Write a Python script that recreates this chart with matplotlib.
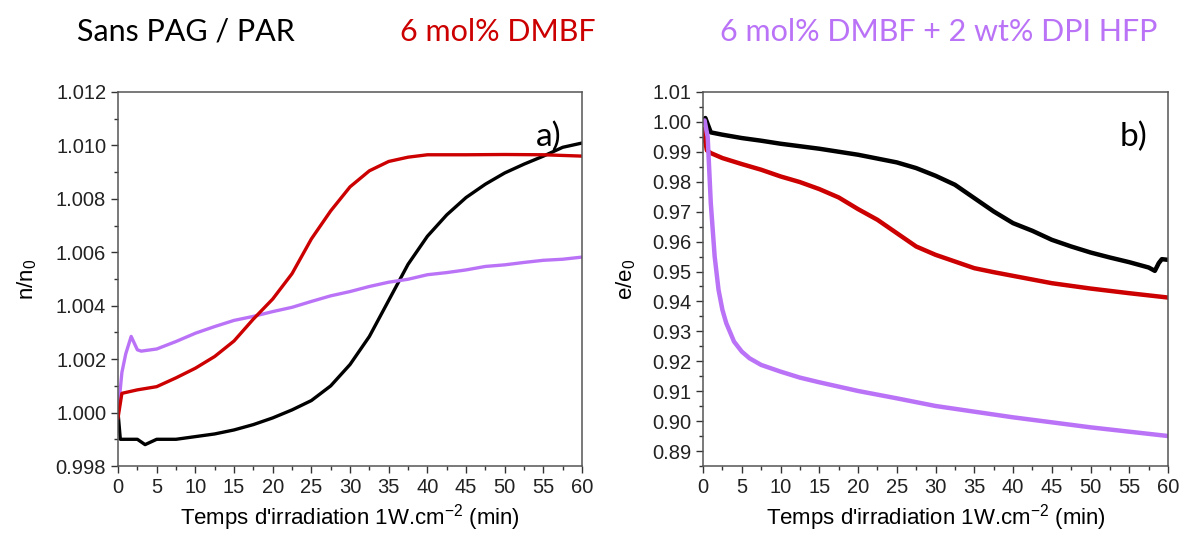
import numpy as np
import matplotlib
matplotlib.use("Agg")
import matplotlib.pyplot as plt
from matplotlib.ticker import MultipleLocator, FormatStrFormatter

# ---- data (time in min) ----
# panel a) n/n0
t_a_black = [0, 0.3, 1, 2.5, 3.5, 5, 7.5, 10, 12.5, 15, 17.5, 20, 22.5, 25, 27.5, 30, 32.5, 35,
             37.5, 40, 42.5, 45, 47.5, 50, 52.5, 55, 57.5, 60]
n_black = [1.0000, 0.9990, 0.9990, 0.9990, 0.9988, 0.9990, 0.9990, 0.9991, 0.9992, 0.99935, 0.99955,
           0.9998, 1.0001, 1.00045, 1.00100, 1.00180, 1.00285, 1.0042, 1.00555, 1.0066, 1.00740,
           1.00805, 1.00855, 1.00897, 1.00930, 1.00960, 1.00993, 1.01009]

t_a_red = [0, 0.5, 2.5, 5, 7.5, 10, 12.5, 15, 17.5, 20, 22.5, 25, 27.5, 30, 32.5, 35, 37.5, 40,
           45, 50, 55, 60]
n_red = [0.9998, 1.00072, 1.00085, 1.00097, 1.0013, 1.00166, 1.00210, 1.00268, 1.0035, 1.00425,
         1.0052, 1.0065, 1.00755, 1.00845, 1.00905, 1.0094, 1.00956, 1.00965, 1.00965, 1.00966,
         1.00965, 1.0096]

t_a_purple = [0, 0.5, 1, 1.7, 2.5, 3, 5, 7.5, 10, 12.5, 15, 17.5, 20, 22.5, 25, 27.5, 30, 32.5,
              35, 37.5, 40, 42.5, 45, 47.5, 50, 52.5, 55, 57.5, 60]
n_purple = [1.0000, 1.0015, 1.0022, 1.00285, 1.00235, 1.0023, 1.00238, 1.00266, 1.00297, 1.00322,
            1.00345, 1.0036, 1.00378, 1.00394, 1.00416, 1.00437, 1.00453, 1.00472, 1.00488,
            1.00499, 1.00516, 1.00524, 1.00534, 1.00547, 1.00553, 1.00562, 1.0057, 1.00574, 1.00582]

# panel b) e/e0
t_b_black = [0, 0.3, 1, 2.5, 5, 7.5, 10, 15, 20, 25, 27.5, 30, 32.5, 35, 37.5, 40, 42.5, 45, 47.5,
             50, 52.5, 55, 57.5, 58.3, 58.8, 59.2, 60]
e_black = [1.0000, 1.0013, 0.9965, 0.99573, 0.99461, 0.99372, 0.99271, 0.99104, 0.98903, 0.98647,
           0.98457, 0.982, 0.979, 0.97454, 0.97008, 0.96617, 0.9636, 0.9606, 0.95837, 0.95636,
           0.95468, 0.95312, 0.95134, 0.95022, 0.9528, 0.95413, 0.9539]

t_b_red = [0, 0.5, 1, 2.5, 5, 7.5, 10, 12.5, 15, 17.5, 20, 22.5, 25, 27.5, 30, 32.5, 35, 37.5, 40,
           45, 50, 55, 60]
e_red = [0.9975, 0.9905, 0.98959, 0.98792, 0.98591, 0.98402, 0.98178, 0.97989, 0.97755, 0.97476,
         0.97086, 0.96729, 0.96283, 0.95837, 0.95558, 0.95335, 0.95112, 0.94978, 0.94855, 0.9461,
         0.94431, 0.94275, 0.9413]

t_b_purple = [0, 0.2, 0.6, 1, 1.5, 2, 2.5, 3, 4, 5, 6, 7.5, 10, 12.5, 15, 20, 25, 30, 35, 40, 45,
              50, 55, 60]
e_purple = [1.0000, 1.0005, 0.995, 0.97286, 0.95502, 0.94387, 0.93718, 0.93272, 0.92658, 0.92324,
            0.921, 0.91878, 0.91655, 0.91454, 0.91298, 0.91008, 0.90762, 0.90506, 0.90316, 0.90127,
            0.8996, 0.89792, 0.89647, 0.89502]

titles = ["Sans PAG / PAR", "6 mol% DMBF", "6 mol% DMBF + 2 wt% DPI HFP"]
BLACK, RED, PURPLE = "#000000", "#CC0000", "#BA73F7"

plt.rcParams["font.family"] = "Liberation Sans"
fig = plt.figure(figsize=(11.79, 5.33), dpi=100)

ax_a = fig.add_axes([0.1001, 0.1257, 0.3936, 0.7017])
ax_b = fig.add_axes([0.5963, 0.1257, 0.3944, 0.7017])

ax_a.plot(t_a_black, n_black, color=BLACK, lw=2.4)
ax_a.plot(t_a_purple, n_purple, color=PURPLE, lw=2.4)
ax_a.plot(t_a_red, n_red, color=RED, lw=2.4)

ax_b.plot(t_b_black, e_black, color=BLACK, lw=3.2)
ax_b.plot(t_b_red, e_red, color=RED, lw=3.2)
ax_b.plot(t_b_purple, e_purple, color=PURPLE, lw=3.2)

ax_a.set_ylim(0.998, 1.012)
ax_a.yaxis.set_major_locator(MultipleLocator(0.002))
ax_a.yaxis.set_minor_locator(MultipleLocator(0.001))
ax_a.yaxis.set_major_formatter(FormatStrFormatter("%.3f"))
ax_a.set_ylabel(r"n/n$_\mathregular{0}$", fontsize=16, labelpad=12)

ax_b.set_ylim(0.885, 1.01)
ax_b.yaxis.set_major_locator(MultipleLocator(0.01))
ax_b.yaxis.set_minor_locator(MultipleLocator(0.005))
ax_b.yaxis.set_major_formatter(FormatStrFormatter("%.2f"))
ax_b.set_ylabel(r"e/e$_\mathregular{0}$", fontsize=16, labelpad=10)

for ax in (ax_a, ax_b):
    ax.set_xlim(0, 60)
    ax.xaxis.set_major_locator(MultipleLocator(5))
    ax.xaxis.set_minor_locator(MultipleLocator(2.5))
    ax.set_xlabel(r"Temps d'irradiation 1W.cm$^\mathregular{-2}$ (min)", fontsize=16, labelpad=4)
    ax.tick_params(which="both", direction="out", top=False, right=False, colors="#333333",
                   labelcolor="#222222", labelsize=14.5)
    ax.tick_params(which="major", length=5, width=1)
    ax.tick_params(which="minor", length=3, width=1)
    for sp in ax.spines.values():
        sp.set_color("#555555")
        sp.set_linewidth(1.1)

ax_a.text(0.955, 0.855, "a)", transform=ax_a.transAxes, fontsize=24, family="Lato",
          ha="right", va="baseline")
ax_b.text(0.955, 0.855, "b)", transform=ax_b.transAxes, fontsize=24, family="Lato",
          ha="right", va="baseline")

fig.text(0.158, 0.94, titles[0], color=BLACK, fontsize=22, family="Lato", ha="center", va="center")
fig.text(0.4224, 0.94, titles[1], color=RED, fontsize=22, family="Lato", ha="center", va="center")
fig.text(0.7960, 0.94, titles[2], color=PURPLE, fontsize=22, family="Lato", ha="center", va="center")

fig.savefig("out.png", dpi=100)
